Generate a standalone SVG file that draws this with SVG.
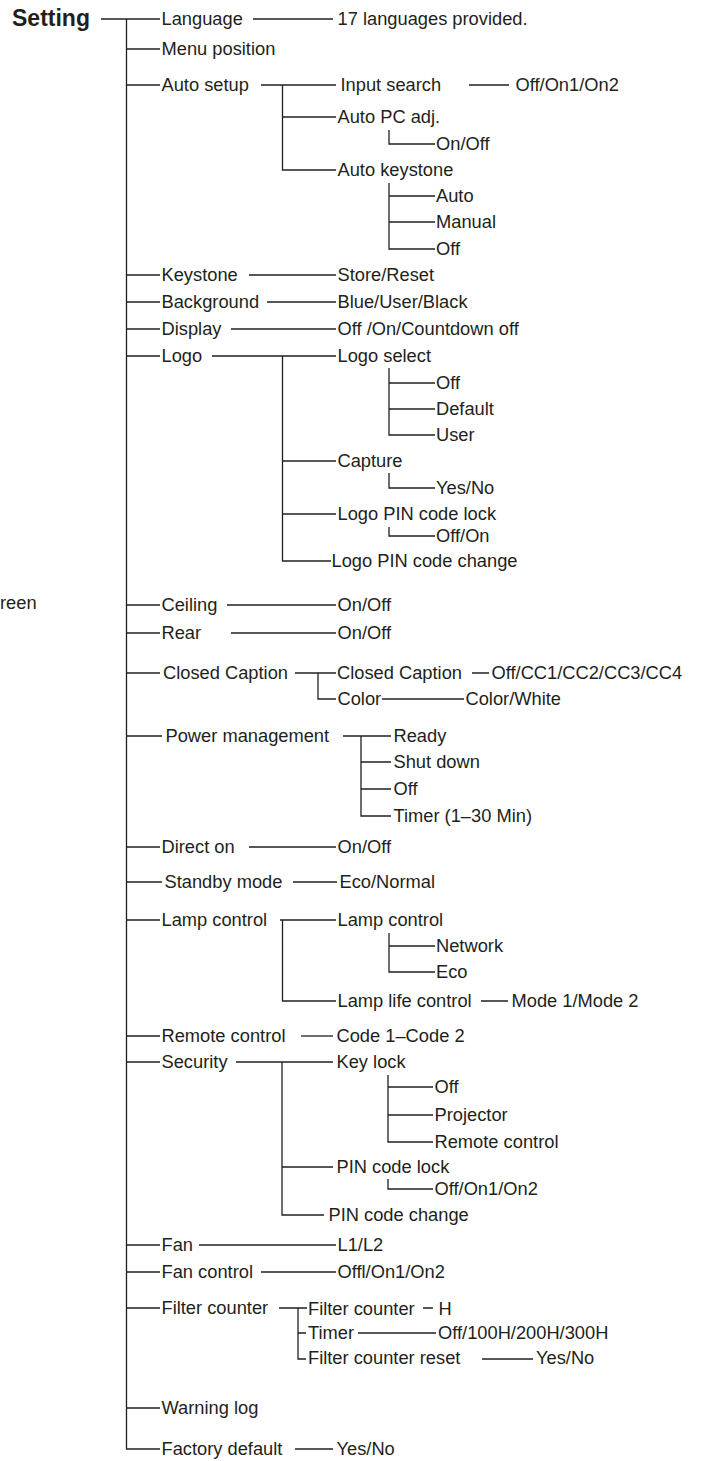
<svg xmlns="http://www.w3.org/2000/svg" width="702" height="1461" viewBox="0 0 702 1461">
<style>
.t{font-family:"Liberation Sans",Arial,sans-serif;font-size:18.3px;fill:#231f20}
.b{font-family:"Liberation Sans",Arial,sans-serif;font-size:23px;font-weight:bold;fill:#231f20}
.c path{fill:none;stroke:#231f20;stroke-width:1.3}
</style>
<rect width="702" height="1461" fill="#fff"/>
<g class="c" id="connectors">
<path d="M126.5 19V1449H160"/>
<path d="M101 19H160"/>
<path d="M126.5 49H160M126.5 85H160M126.5 275H160M126.5 302H160M126.5 329H160M126.5 356H160M126.5 605H160M126.5 633H160M126.5 673H160M126.5 736H162M126.5 847H160M126.5 882H162M126.5 920H160M126.5 1036H160M126.5 1062H160M126.5 1245H160M126.5 1272H160M126.5 1308H160M126.5 1408H160"/>
<path d="M253 19H333"/>
<path d="M261 85H336M282.5 85V170H336M282.5 117H336M469 85H509"/>
<path d="M389 130V144H435M389 183V249H435M389 196H435M389 222H435"/>
<path d="M249 275H336M267 302H336M231 329H336"/>
<path d="M212 356H336M282.5 356V561H331M282.5 461H336M282.5 514H336"/>
<path d="M389 368V435H435M389 383H435M389 409H435M389 473V488H435M389 527V536H435"/>
<path d="M227 605H336M231 633H336"/>
<path d="M295 673H336M318 673V699H336M472 673H489M382 699H464"/>
<path d="M343 736H391M361 736V816H391M361 762H391M361 789H391"/>
<path d="M249 847H336M293 882H337"/>
<path d="M280 920H336M282.5 920V1001H336M389 933V972H435M389 946H435M481 1001H508"/>
<path d="M301 1036H333"/>
<path d="M236 1062H333M282 1062V1215H324M282 1167H333M388 1075V1142H433M388 1087H433M388 1115H433M388 1179V1189H433"/>
<path d="M199 1245H336M261 1272H336"/>
<path d="M279 1308H307M298 1308V1359H306M298 1333H306M423 1308H433M358 1333H436M482 1359H533"/>
<path d="M295 1449H333"/>
</g>
<g id="setting"><text class="b" x="12" y="26">Setting</text></g>
<g id="language"><text class="t" x="161.5" y="25">Language</text></g>
<g id="language-val"><text class="t" x="337.5" y="25">17 languages provided.</text></g>
<g id="menu-position"><text class="t" x="161.5" y="55">Menu position</text></g>
<g id="auto-setup"><text class="t" x="161.5" y="91">Auto setup</text></g>
<g id="input-search"><text class="t" x="340.5" y="91">Input search</text></g>
<g id="input-search-val"><text class="t" x="515.5" y="91">Off/On1/On2</text></g>
<g id="auto-pc-adj"><text class="t" x="337.5" y="123">Auto PC adj.</text></g>
<g id="auto-pc-val"><text class="t" x="436" y="150">On/Off</text></g>
<g id="auto-keystone"><text class="t" x="337.5" y="176">Auto keystone</text></g>
<g id="ak-auto"><text class="t" x="436" y="202">Auto</text></g>
<g id="ak-manual"><text class="t" x="436" y="228">Manual</text></g>
<g id="ak-off"><text class="t" x="436" y="255">Off</text></g>
<g id="keystone"><text class="t" x="161.5" y="281">Keystone</text></g>
<g id="keystone-val"><text class="t" x="337.5" y="281">Store/Reset</text></g>
<g id="background"><text class="t" x="161.5" y="308">Background</text></g>
<g id="background-val"><text class="t" x="337.5" y="308">Blue/User/Black</text></g>
<g id="display"><text class="t" x="161.5" y="335">Display</text></g>
<g id="display-val"><text class="t" x="337.5" y="335">Off /On/Countdown off</text></g>
<g id="logo"><text class="t" x="161.5" y="362">Logo</text></g>
<g id="logo-select"><text class="t" x="337.5" y="362">Logo select</text></g>
<g id="ls-off"><text class="t" x="436" y="389">Off</text></g>
<g id="ls-default"><text class="t" x="436" y="415">Default</text></g>
<g id="ls-user"><text class="t" x="436" y="441">User</text></g>
<g id="capture"><text class="t" x="337.5" y="467">Capture</text></g>
<g id="capture-val"><text class="t" x="436" y="494">Yes/No</text></g>
<g id="logo-pin-lock"><text class="t" x="337.5" y="520">Logo PIN code lock</text></g>
<g id="logo-pin-lock-val"><text class="t" x="436" y="542">Off/On</text></g>
<g id="logo-pin-change"><text class="t" x="331.5" y="567">Logo PIN code change</text></g>
<g id="reen"><text class="t" x="0" y="609">reen</text></g>
<g id="ceiling"><text class="t" x="161.5" y="611">Ceiling</text></g>
<g id="ceiling-val"><text class="t" x="337.5" y="611">On/Off</text></g>
<g id="rear"><text class="t" x="161.5" y="639">Rear</text></g>
<g id="rear-val"><text class="t" x="337.5" y="639">On/Off</text></g>
<g id="closed-caption"><text class="t" x="163" y="679">Closed Caption</text></g>
<g id="cc-sub"><text class="t" x="337" y="679">Closed Caption</text></g>
<g id="cc-sub-val"><text class="t" x="491.5" y="679">Off/CC1/CC2/CC3/CC4</text></g>
<g id="cc-color"><text class="t" x="337.5" y="705">Color</text></g>
<g id="cc-color-val"><text class="t" x="465.5" y="705">Color/White</text></g>
<g id="power-management"><text class="t" x="165.5" y="742">Power management</text></g>
<g id="pm-ready"><text class="t" x="393.5" y="742">Ready</text></g>
<g id="pm-shutdown"><text class="t" x="393.5" y="768">Shut down</text></g>
<g id="pm-off"><text class="t" x="393.5" y="795">Off</text></g>
<g id="pm-timer"><text class="t" x="393.5" y="822">Timer (1–30 Min)</text></g>
<g id="direct-on"><text class="t" x="161.5" y="853">Direct on</text></g>
<g id="direct-on-val"><text class="t" x="337.5" y="853">On/Off</text></g>
<g id="standby-mode"><text class="t" x="164.5" y="888">Standby mode</text></g>
<g id="standby-mode-val"><text class="t" x="339.5" y="888">Eco/Normal</text></g>
<g id="lamp-control"><text class="t" x="161.5" y="926">Lamp control</text></g>
<g id="lamp-control-sub"><text class="t" x="337.5" y="926">Lamp control</text></g>
<g id="lc-network"><text class="t" x="436" y="952">Network</text></g>
<g id="lc-eco"><text class="t" x="436" y="978">Eco</text></g>
<g id="lamp-life"><text class="t" x="337.5" y="1007">Lamp life control</text></g>
<g id="lamp-life-val"><text class="t" x="511.5" y="1007">Mode 1/Mode 2</text></g>
<g id="remote-control"><text class="t" x="161.5" y="1042">Remote control</text></g>
<g id="remote-control-val"><text class="t" x="336.5" y="1042">Code 1–Code 2</text></g>
<g id="security"><text class="t" x="161.5" y="1068">Security</text></g>
<g id="key-lock"><text class="t" x="336.5" y="1068">Key lock</text></g>
<g id="kl-off"><text class="t" x="434.5" y="1093">Off</text></g>
<g id="kl-projector"><text class="t" x="434.5" y="1121">Projector</text></g>
<g id="kl-remote"><text class="t" x="434.5" y="1148">Remote control</text></g>
<g id="pin-lock"><text class="t" x="336.5" y="1173">PIN code lock</text></g>
<g id="pin-lock-val"><text class="t" x="434.5" y="1195">Off/On1/On2</text></g>
<g id="pin-change"><text class="t" x="328.5" y="1221">PIN code change</text></g>
<g id="fan"><text class="t" x="161.5" y="1251">Fan</text></g>
<g id="fan-val"><text class="t" x="337.5" y="1251">L1/L2</text></g>
<g id="fan-control"><text class="t" x="161.5" y="1278">Fan control</text></g>
<g id="fan-control-val"><text class="t" x="337.5" y="1278">Offl/On1/On2</text></g>
<g id="filter-counter"><text class="t" x="161.5" y="1314">Filter counter</text></g>
<g id="fc-sub"><text class="t" x="308" y="1315">Filter counter</text></g>
<g id="fc-sub-val"><text class="t" x="438.5" y="1315">H</text></g>
<g id="fc-timer"><text class="t" x="308" y="1339">Timer</text></g>
<g id="fc-timer-val"><text class="t" x="438" y="1339">Off/100H/200H/300H</text></g>
<g id="fc-reset"><text class="t" x="308" y="1364">Filter counter reset</text></g>
<g id="fc-reset-val"><text class="t" x="536" y="1364">Yes/No</text></g>
<g id="warning-log"><text class="t" x="161.5" y="1414">Warning log</text></g>
<g id="factory-default"><text class="t" x="161.5" y="1455">Factory default</text></g>
<g id="factory-default-val"><text class="t" x="336.5" y="1455">Yes/No</text></g>
</svg>
